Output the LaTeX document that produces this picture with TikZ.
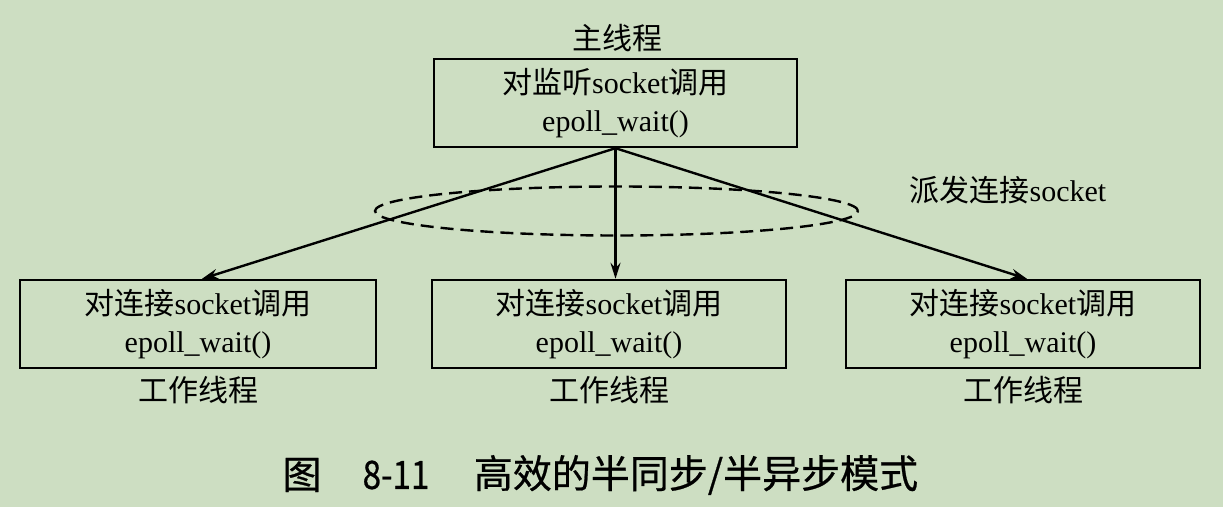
\documentclass[tikz,border=0pt]{standalone}
\usepackage{fontspec}
\setmainfont{Liberation Serif}
\newfontfamily\cjk{Noto Sans CJK SC}
\newfontfamily\cjkcap{Noto Sans CJK SC}[FakeBold=0.6]
\usetikzlibrary{arrows.meta,calc}
\definecolor{bg}{RGB}{205,222,194}
\begin{document}
\begin{tikzpicture}[x=0.5pt,y=-0.5pt,
  box/.style={draw,line width=1.2pt,minimum width=#1,minimum height=44pt,inner sep=0pt,align=center,font=\fontsize{15}{19}\selectfont},
  box/.default=177pt,
  lab/.style={inner sep=0pt,font=\fontsize{15}{18}\selectfont\cjk},
  captxt/.style={inner sep=0pt,font=\fontsize{19.5}{24}\selectfont\cjkcap},
  arr/.style={-{Stealth[length=8pt,width=5pt]},line width=1.2pt},
  ell/.style={dash pattern=on 6.5pt off 3.5pt,line width=1.2pt}]
\fill[bg] (0,0) rectangle (1223,507);
\useasboundingbox (0,0) rectangle (1223,507);
% boxes
\node[box=181.5pt] (top) at (615.5,103) {{\cjk 对监听}socket{\cjk 调用}\\epoll\_wait()};
\node[box=178pt] (L) at (198,324) {{\cjk 对连接}socket{\cjk 调用}\\epoll\_wait()};
\node[box=177pt] (M) at (609,324) {{\cjk 对连接}socket{\cjk 调用}\\epoll\_wait()};
\node[box=177pt] (R) at (1023,324) {{\cjk 对连接}socket{\cjk 调用}\\epoll\_wait()};
% labels
\node[lab] (tl) at (617,38) {主线程};
\node[lab] (ll) at (198,390) {工作线程};
\node[lab] (ml) at (609,390) {工作线程};
\node[lab] (rl) at (1023,390) {工作线程};
\node[lab] (disp) at (1008,190) {派发连接{\rmfamily socket}};
% dashed ellipse
\draw[ell] (616.5,211) ellipse [x radius=120.75pt, y radius=12.25pt];
% arrows
\draw[arr] (top.south) -- ([xshift=2pt]L.north);
\draw[arr] (top.south) -- (top.south |- M.north);
\draw[arr] (top.south) -- ([xshift=2pt]R.north);
% caption
\node[captxt] (c1) at (302,475) {图};
\node[captxt,xscale=0.85] (c2) at (396,475) {8-11};
\node[captxt] (c3) at (696,475) {高效的半同步/半异步模式};
\end{tikzpicture}
\end{document}
